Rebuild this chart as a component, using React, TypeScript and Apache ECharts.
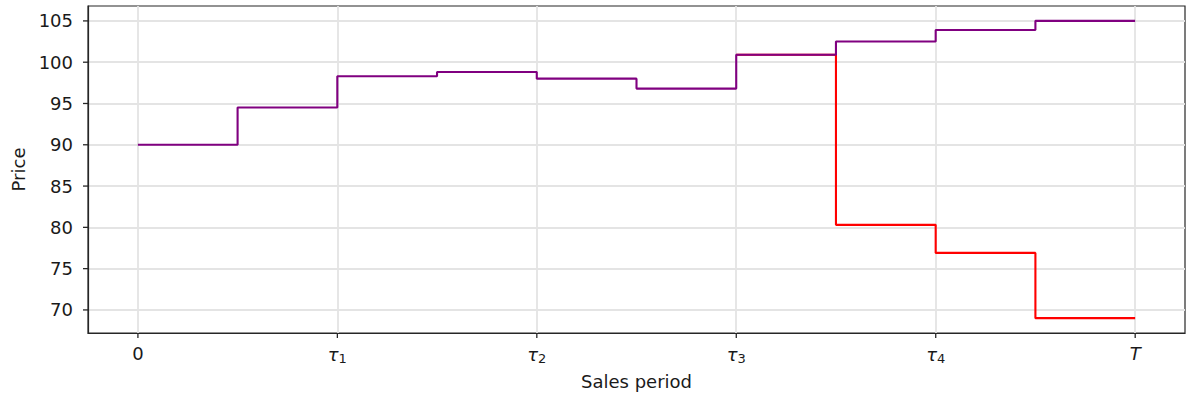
import React, { useEffect, useRef } from "react";
import * as echarts from "echarts";

const periods = [0, 0.5, 1, 1.5, 2, 2.5, 3, 3.5, 4, 4.5, 5];
const purplePrices = [90, 94.5, 98.3, 98.8, 98, 96.8, 100.9, 102.5, 103.9, 105, 105];
const redPeriods = [3, 3.5, 4, 4.5, 5];
const redPrices = [100.9, 80.3, 76.9, 69, 69];
const xTickValues = [0, 1, 2, 3, 4, 5];
const xTickLabels = ["0", "τ_1", "τ_2", "τ_3", "τ_4", "T"];
const yTickValues = [70, 75, 80, 85, 90, 95, 100, 105];

const X_MIN = -0.25;
const X_MAX = 5.25;
const Y_MIN = 67.2;
const Y_MAX = 106.8;

const FONT = "DejaVu Sans";
const FS = 18;
const TICK_LEN = 5;

export default function App() {
  const ref = useRef<HTMLDivElement>(null);
  useEffect(() => {
    if (!ref.current) return;
    const chart = echarts.init(ref.current, null, { renderer: "svg" });
    const formatX = (v: number) => {
      const idx = xTickValues.indexOf(Math.round(v));
      const lab = xTickLabels[idx] ?? "";
      if (lab.includes("_")) {
        const [b, s] = lab.split("_");
        return `{t|${b}}{s|${s}}`;
      }
      if (/^[A-Za-z]$/.test(lab)) return `{i|${lab}}`;
      return `{n|${lab}}`;
    };
    const axisLineStyle = { color: "#262626", width: 1.2 };
    chart.setOption({
      animation: false,
      backgroundColor: "#ffffff",
      grid: {
        left: 88,
        top: 6,
        right: 6,
        bottom: 66,
        show: true,
        borderColor: "#262626",
        borderWidth: 1.2,
        backgroundColor: "transparent",
      },
      xAxis: {
        type: "value",
        min: X_MIN,
        max: X_MAX,
        name: "Sales period",
        nameLocation: "middle",
        nameGap: 39,
        nameTextStyle: { fontFamily: FONT, fontSize: FS, color: "#1a1a1a" },
        axisLine: { show: true, onZero: false, lineStyle: axisLineStyle },
        axisTick: { show: false, customValues: xTickValues },
        axisLabel: {
          customValues: xTickValues,
          margin: 11,
          formatter: formatX,
          rich: {
            n: { fontFamily: FONT, fontSize: FS, color: "#1a1a1a" },
            t: { fontFamily: FONT, fontSize: FS, fontStyle: "italic", color: "#1a1a1a" },
            i: { fontFamily: FONT, fontSize: FS, fontStyle: "italic", color: "#1a1a1a" },
            s: { fontFamily: FONT, fontSize: 13, color: "#1a1a1a", padding: [8, 0, 0, 0] },
          },
        },
        splitLine: { show: true, lineStyle: { color: "#e4e4e4", width: 1.8 } },
      },
      yAxis: {
        type: "value",
        min: Y_MIN,
        max: Y_MAX,
        name: "Price",
        nameLocation: "middle",
        nameGap: 58,
        nameTextStyle: { fontFamily: FONT, fontSize: FS, color: "#1a1a1a" },
        axisLine: { show: true, onZero: false, lineStyle: axisLineStyle },
        axisTick: { show: false, customValues: yTickValues },
        axisLabel: {
          customValues: yTickValues,
          margin: 15,
          fontFamily: FONT,
          fontSize: FS,
          color: "#1a1a1a",
        },
        splitLine: { show: true, lineStyle: { color: "#e4e4e4", width: 1.8 } },
      },
      series: [
        {
          type: "line",
          step: "end",
          data: redPeriods.map((x, i) => [x, redPrices[i]]),
          showSymbol: false,
          lineStyle: { color: "#ff0000", width: 2.1 },
          itemStyle: { color: "#ff0000" },
          z: 2,
        },
        {
          type: "line",
          step: "end",
          data: periods.map((x, i) => [x, purplePrices[i]]),
          showSymbol: false,
          lineStyle: { color: "#800080", width: 2.1 },
          itemStyle: { color: "#800080" },
          z: 3,
        },
        {
          type: "custom",
          silent: true,
          clip: false,
          encode: { x: 0, y: 1 },
          data: yTickValues.map((v) => [X_MIN, v]),
          renderItem: (params: any, api: any) => {
            const p = api.coord([api.value(0), api.value(1)]);
            return {
              type: "rect",
              shape: { x: p[0] - TICK_LEN, y: p[1] - 0.6, width: TICK_LEN, height: 1.3 },
              style: { fill: "#262626" },
            };
          },
          z: 10,
        },
        {
          type: "custom",
          silent: true,
          clip: false,
          encode: { x: 0, y: 1 },
          data: xTickValues.map((v) => [v, Y_MIN]),
          renderItem: (params: any, api: any) => {
            const p = api.coord([api.value(0), api.value(1)]);
            return {
              type: "rect",
              shape: { x: p[0] - 0.6, y: p[1], width: 1.3, height: TICK_LEN },
              style: { fill: "#262626" },
            };
          },
          z: 10,
        },
      ],
    });
    return () => chart.dispose();
  }, []);
  return (
    <div
      ref={ref}
      style={{ position: "fixed", left: 0, top: 0, width: 1191, height: 399 }}
    />
  );
}
